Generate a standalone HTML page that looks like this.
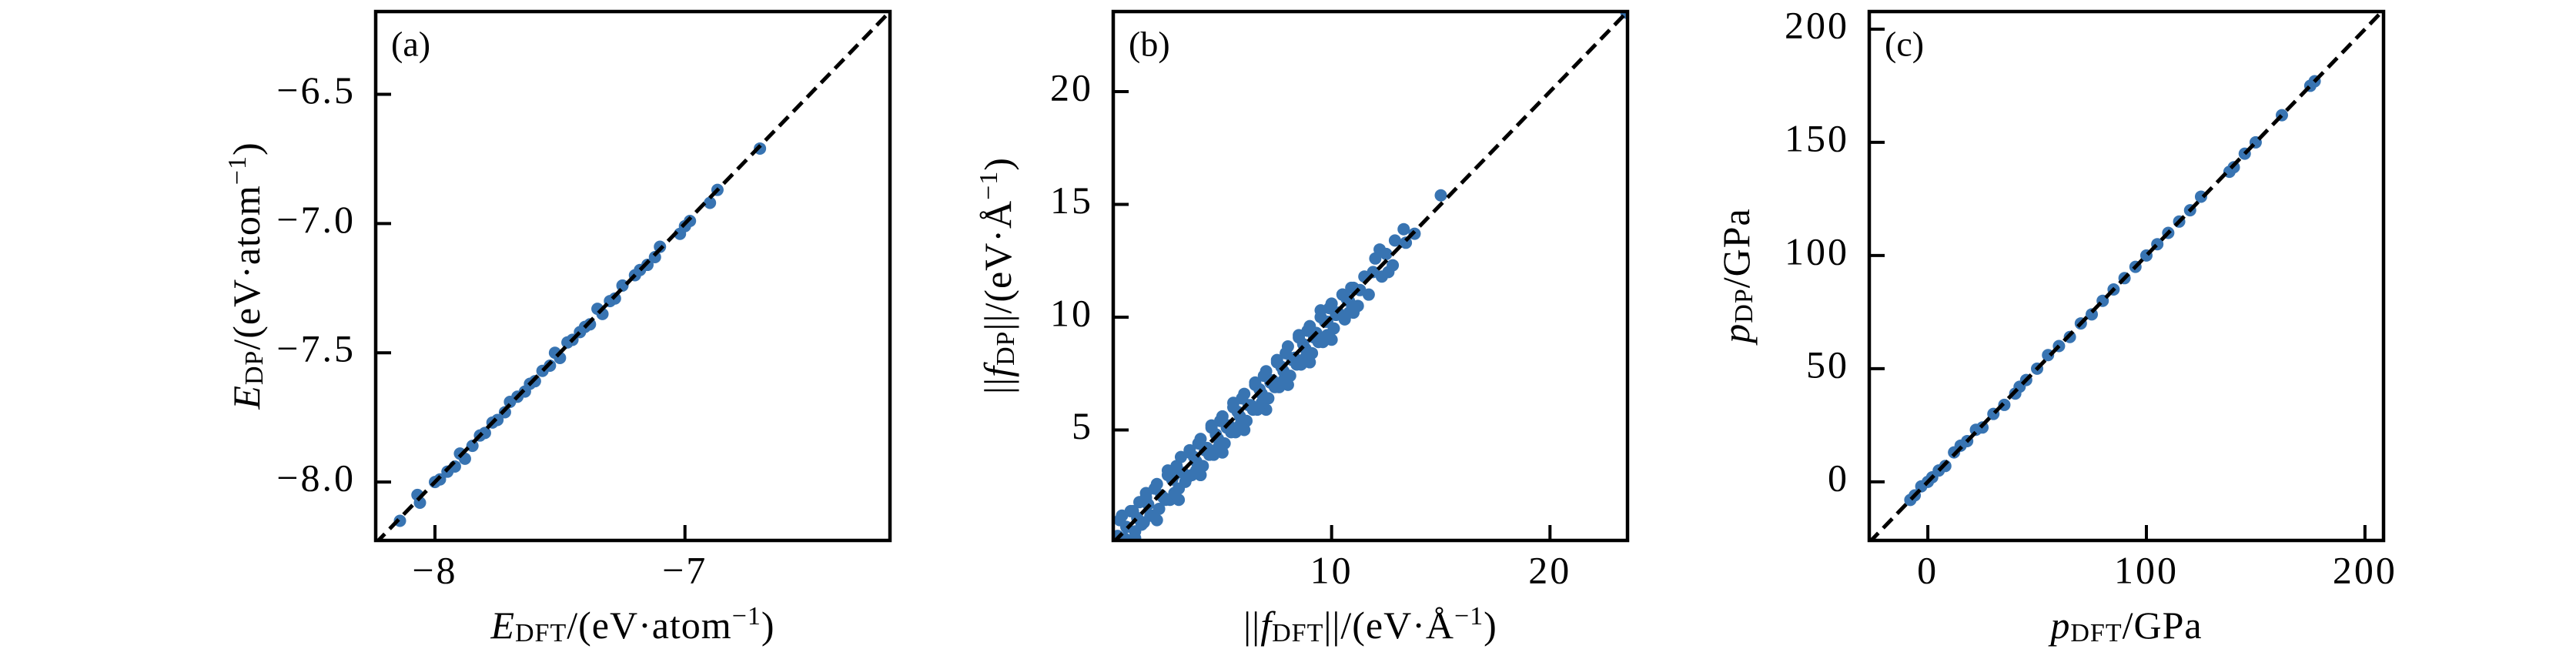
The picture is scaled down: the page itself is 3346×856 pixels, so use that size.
<!DOCTYPE html>
<html><head><meta charset="utf-8"><style>
html,body{margin:0;padding:0;background:#fff;}
svg{display:block;font-family:"Liberation Serif",serif;}
</style></head><body>
<svg id="fig" width="3346" height="856" viewBox="0 0 3346 856" xmlns="http://www.w3.org/2000/svg"></svg>
<script>
// Panel (a) energy data
const aDFT=[-8.14,-8.07,-8.06,-8.0,-7.98,-7.95,-7.92,-7.9,-7.88,-7.85,-7.82,-7.8,-7.77,-7.75,-7.72,-7.7,-7.67,-7.64,-7.62,-7.6,-7.57,-7.54,-7.52,-7.5,-7.47,-7.45,-7.42,-7.4,-7.38,-7.35,-7.33,-7.3,-7.28,-7.25,-7.2,-7.18,-7.15,-7.12,-7.1,-7.02,-7.0,-6.98,-6.9,-6.87,-6.7];
const aDP=[-8.15,-8.05,-8.08,-8.0,-7.99,-7.96,-7.94,-7.89,-7.91,-7.86,-7.82,-7.81,-7.77,-7.76,-7.73,-7.69,-7.67,-7.65,-7.62,-7.61,-7.57,-7.55,-7.5,-7.52,-7.46,-7.45,-7.42,-7.4,-7.39,-7.33,-7.35,-7.3,-7.29,-7.24,-7.2,-7.18,-7.16,-7.13,-7.09,-7.04,-7.01,-6.99,-6.92,-6.87,-6.71];
const aXTicks=[-8,-7];
const aYTicks=[-8.0,-7.5,-7.0,-6.5];
// Panel (b) force data
const bDFT=[0.2,0.3,0.5,0.8,1.0,1.2,1.4,1.5,1.7,2.0,2.1,2.3,2.5,2.6,2.8,3.0,3.1,3.3,3.5,3.6,3.8,4.0,4.1,4.3,4.5,4.6,4.8,5.0,5.1,5.3,5.5,5.6,5.8,6.0,6.1,6.3,6.5,6.6,6.8,7.0,7.1,7.3,7.5,7.6,7.8,8.0,8.1,8.3,8.5,8.6,8.8,9.0,9.1,9.3,9.5,9.6,9.8,10.0,10.1,10.3,10.5,10.6,10.8,11.0,11.2,11.5,11.7,12.0,12.3,12.5,12.8,12.9,13.3,13.4,13.8,15.0,23.5,
 0.6,1.1,1.6,2.2,2.7,3.2,3.7,4.2,4.7,5.2,5.7,6.2,6.7,7.2,7.7,8.2,8.7,9.2,9.7,10.2,10.7,11.3,11.9,0.9,1.9,2.9,3.9,4.9,5.9,6.9,7.9,8.9,9.9,10.9,1.3,2.4,3.4,4.4,5.4,6.4,7.4,8.4,9.4,
 0.4,1.0,1.5,2.0,2.5,3.0,3.5,4.0,4.5,5.0,5.5,6.0,6.5,7.0,7.5,8.0,8.5,9.0,9.5,10.0,10.5,11.0,0.7,1.8,2.8,3.8,4.8,5.8,6.8,7.8,8.8,9.8,10.8,12.2,12.6];
const bDP=[0.3,1.0,0.2,1.4,0.5,1.8,0.9,2.2,1.2,2.6,1.5,2.0,3.2,1.9,3.0,2.4,3.8,2.7,4.1,3.0,3.6,4.6,3.4,4.2,5.2,3.9,4.6,5.6,4.4,5.2,6.2,4.9,5.6,6.6,5.4,6.1,7.1,5.9,6.6,7.6,6.4,7.2,8.1,6.9,7.6,8.7,7.4,8.2,9.2,7.9,8.6,9.6,8.4,9.3,10.3,8.9,9.8,10.6,9.5,10.2,11.0,9.9,10.7,11.3,10.5,11.8,11.0,12.6,11.8,12.8,12.3,13.4,13.9,13.3,13.7,15.4,23.5,
 0.7,1.1,1.7,2.1,2.8,3.1,3.8,4.1,4.8,5.1,5.8,6.1,6.8,7.1,7.8,8.1,8.8,9.1,9.8,10.1,10.8,11.2,12.0,1.4,2.4,3.4,4.4,5.4,6.4,7.4,8.4,9.4,10.4,11.3,0.8,1.9,2.9,3.9,4.9,5.9,6.9,7.9,8.9,
 1.2,0.2,2.0,1.0,3.0,1.9,4.0,3.0,5.1,4.0,6.0,5.0,7.0,5.9,8.0,7.0,9.1,8.0,10.0,9.0,11.0,10.2,0.1,1.2,2.2,3.2,4.2,5.2,6.2,7.2,8.2,9.2,10.2,13.0,12.0];
const bXTicks=[10,20];
const bYTicks=[5,10,15,20];
// Panel (c) pressure data
const cDFT=[-8,-6,-3,0,2,5,8,12,15,18,22,25,30,35,40,42,45,50,55,60,65,70,75,80,85,90,95,100,105,110,115,120,125,138,140,145,150,162,175,177];
const cDP=[-8,-6,-2,0,2,5,7,13,16,18,23,24,30,34,39,42,45,50,56,60,64,70,74,80,85,90,95,100,105,110,115,120,126,137,139,145,150,162,175,177];
const cXTicks=[0,100,200];
const cYTicks=[0,50,100,150,200];

const NS="http://www.w3.org/2000/svg";
const svg=document.getElementById('fig');
function mk(tag,attrs,parent){const e=document.createElementNS(NS,tag);for(const k in attrs)e.setAttribute(k,attrs[k]);(parent||svg).appendChild(e);return e;}
const TOP=15,BOT=702;
const panels=[
 {id:'a',L:488,R:1156,xmin:-8.237,xmax:-6.18,ymin:-8.226,ymax:-6.18,xs:aDFT,ys:aDP,xt:aXTicks,yt:aYTicks,
  xfmt:v=>'\u2212'+Math.abs(v),yfmt:v=>'\u2212'+Math.abs(v).toFixed(1),ylx:326,
  xlab:[['E','italic',''],['DFT','','sub'],['/(eV\u00b7atom','',''],['\u22121','','sup'],[')','','']],
  ylab:[['E','italic',''],['DP','','sub'],['/(eV\u00b7atom','',''],['\u22121','','sup'],[')','','']]},
 {id:'b',L:1446,R:2114,xmin:0,xmax:23.55,ymin:0.1,ymax:23.55,xs:bDFT,ys:bDP,xt:bXTicks,yt:bYTicks,
  xfmt:v=>''+v,yfmt:v=>''+v,ylx:1302,
  xlab:[['||','',''],['f','italic',''],['DFT','','sub'],['||/(eV\u00b7\u00c5','',''],['\u22121','','sup'],[')','','']],
  ylab:[['||','',''],['f','italic',''],['DP','','sub'],['||/(eV\u00b7\u00c5','',''],['\u22121','','sup'],[')','','']]},
 {id:'c',L:2428,R:3096,xmin:-26.8,xmax:208.5,ymin:-25.9,ymax:207.8,xs:cDFT,ys:cDP,xt:cXTicks,yt:cYTicks,
  xfmt:v=>''+v,yfmt:v=>''+v,ylx:2261,
  xlab:[['p','italic',''],['DFT','','sub'],['/GPa','','']],
  ylab:[['p','italic',''],['DP','','sub'],['/GPa','','']]}
];
function addLabel(parent,parts,x,y,rot,name){
  const t=mk('text',{x:x,y:y,'font-size':50,'text-anchor':'middle','dominant-baseline':'middle','letter-spacing':'1'},parent);
  if(rot)t.setAttribute('transform','rotate(-90 '+x+' '+y+')');
  
  
  parts.forEach(p=>{const s=mk('tspan',{},t);s.textContent=p[0];
    if(p[1])s.setAttribute('font-style','italic');
    if(p[2]==='sub'){s.setAttribute('font-size','34');s.setAttribute('baseline-shift','-20%');}
    if(p[2]==='sup'){s.setAttribute('font-size','34');s.setAttribute('baseline-shift','45%');}
  });
}
panels.forEach(P=>{
  const g=mk('g',{});
  
  
  const sx=v=>P.L+(v-P.xmin)/(P.xmax-P.xmin)*(P.R-P.L);
  const sy=v=>BOT-(v-P.ymin)/(P.ymax-P.ymin)*(BOT-TOP);
  const clipId='clip'+P.id;
  const cp=mk('clipPath',{id:clipId},g);mk('rect',{x:P.L,y:TOP,width:P.R-P.L,height:BOT-TOP},cp);
  const pts=mk('g',{'clip-path':'url(#'+clipId+')'},g);
  
  
  P.xs.forEach((x,i)=>{
    const c=mk('circle',{cx:sx(x),cy:sy(P.ys[i]),r:8,fill:'#3874b2'},pts);
    
    
  });
  const lo2=Math.min(P.xmin,P.ymin),hi2=Math.max(P.xmax,P.ymax);
  const ln=mk('line',{x1:sx(lo2),y1:sy(lo2),x2:sx(hi2),y2:sy(hi2),stroke:'#000','stroke-width':5,'stroke-dasharray':'17 9'},pts);
  
  
  P.xt.forEach(v=>{
    const x=sx(v);
    mk('line',{x1:x,y1:BOT,x2:x,y2:BOT-20,stroke:'#000','stroke-width':4},g);
    const t=mk('text',{x:x,y:746,'font-size':50,'text-anchor':'middle','dominant-baseline':'middle','letter-spacing':'3'},g);
    t.textContent=P.xfmt(v);
    
    
  });
  P.yt.forEach(v=>{
    const y=sy(v);
    mk('line',{x1:P.L,y1:y,x2:P.L+20,y2:y,stroke:'#000','stroke-width':4},g);
    const t=mk('text',{x:P.L-26,y:y,'font-size':50,'text-anchor':'end','dominant-baseline':'middle','letter-spacing':'3'},g);
    t.textContent=P.yfmt(v);
    
    
  });
  const fr=mk('rect',{x:P.L,y:TOP,width:P.R-P.L,height:BOT-TOP,fill:'none',stroke:'#000','stroke-width':4.5},g);
  
  
  const pl=mk('text',{x:P.L+20,y:62,'font-size':46,'dominant-baseline':'middle'},g);
  pl.textContent='('+P.id+')';
  
  
  addLabel(g,P.xlab,(P.L+P.R)/2,818,false,'x-axis-title');
  addLabel(g,P.ylab,P.ylx,358,true,'y-axis-title');
});
</script>
</body></html>
